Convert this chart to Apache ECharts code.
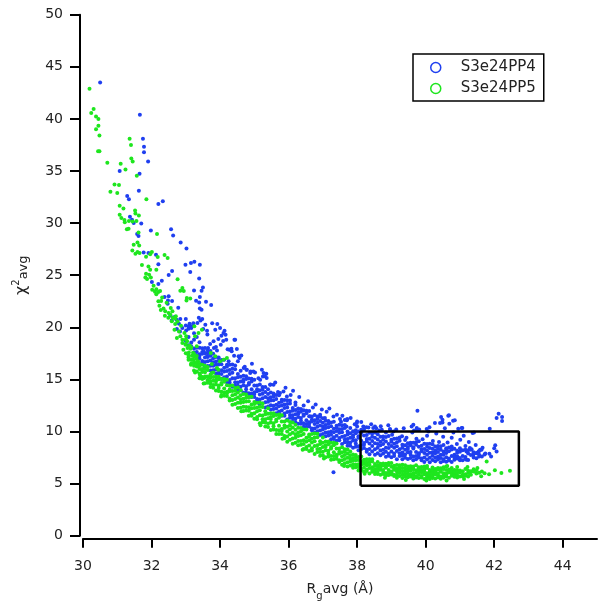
<!DOCTYPE html>
<html>
<head>
<meta charset="utf-8">
<script src="https://cdn.jsdelivr.net/npm/echarts@6/dist/echarts.min.js"></script>
<style>html,body{margin:0;padding:0;background:#fff;}#c{width:607px;height:607px;}</style>
</head>
<body>
<div id="c"></div>
<script>
// ---------- data ----------
const xTicks = [30, 32, 34, 36, 38, 40, 42, 44];
const yTicks = [0, 5, 10, 15, 20, 25, 30, 35, 40, 45, 50];
const seriesNames = ['S3e24PP4', 'S3e24PP5'];
const boxX = [38.1, 42.72];
const boxY = [4.8, 10.0];

// S3e24PP4: scattered points
const pp4Sparse = [
[30.5,43.5],[31.66,40.4],[31.75,38.1],[31.78,37.33],[31.78,36.8],[31.9,35.9],[31.07,35.0],[31.65,34.74],[31.63,33.1],[31.29,32.6],[31.34,32.3],[32.33,32.1],[32.2,31.83],[31.37,30.6],[31.43,30.33],[31.48,30.0],[31.7,29.97],[31.98,29.3],[32.57,29.4],[32.63,28.8],[31.58,28.95],[31.62,28.76],[32.85,28.15],[33.02,27.57],[31.77,27.19],[31.91,27.13],[32.13,26.97],[32.2,26.04],[32.99,26.0],[33.15,26.17],[33.25,26.3],[33.41,26.0],[33.13,25.3],[32.6,25.4],[32.5,25.02],[32.01,24.35],[32.2,24.16],[32.3,24.47],[33.39,24.69],[33.24,23.54],[33.46,23.51],[33.5,23.83],[32.38,22.9],[32.5,22.97],[32.48,22.58],[32.6,22.52],[32.47,22.26],[33.41,22.9],[33.3,22.55],[33.39,22.39],[33.59,22.46],[33.74,22.14],[33.41,21.81],[33.46,21.69],[32.78,21.88],
[32.55,21.14],[32.67,20.99],[32.59,20.66],[32.73,20.73],[32.84,20.8],[32.8,20.35],[32.9,19.93],[32.74,19.84],[32.83,19.6],[33.01,19.7],[33.08,19.87],[33.16,20.09],[33.11,20.35],[33.22,20.38],[33.34,20.41],[33.43,20.66],[33.38,20.92],[33.48,20.8],[33.57,20.25],[33.51,19.84],[33.62,19.67],[33.77,20.38],[33.92,20.32],[33.86,19.77],[34.0,19.93],[34.13,19.67],[34.16,19.29],[34.04,19.19],[33.95,18.88],[33.81,18.65],[33.71,18.4],[33.65,18.01],[33.82,18.01],[33.91,17.78],[34.02,18.33],[34.09,18.68],[34.18,18.81],[34.42,18.81],[34.27,17.85],[34.49,17.92],[34.41,17.27],[34.57,17.05],[34.52,16.73],[34.72,16.22],[34.77,15.93],[34.89,15.77],[35.02,15.67],[35.22,15.93],[35.35,15.55],[35.25,15.29],
[34.1,19.45],[34.44,18.81],[34.34,17.69],[34.54,17.21],[34.25,16.73],[33.62,17.21],[33.52,17.69],[34.78,15.93],[34.88,15.61],[34.97,15.77],[35.27,15.61],[35.36,15.13],[35.17,14.97],[35.46,14.49],[35.56,14.49],[36.2,12.79],[35.75,13.69],[35.85,13.85],[35.95,13.37],
[36.63,11.45],[36.92,11.61],[37.06,11.29],[37.31,11.45],[37.5,11.2],[37.7,11.07],[37.99,10.82],[38.18,10.49],[38.47,10.34],[38.72,10.17],[38.96,10.17],[37.31,6.08],
[37.71,11.2],[37.53,10.94],[38.0,10.97],[38.0,10.49],[37.69,10.49],[38.52,10.49],[38.33,10.39],[38.96,10.24],[39.06,10.01],[38.65,10.1],
[39.76,12.0],[40.45,11.39],[40.66,11.52],[40.8,11.04],[40.69,10.75],[40.49,10.87],[40.27,10.82],[42.13,11.71],[42.07,11.29],[42.23,11.39],[42.23,11.0],[41.87,10.27],[42.03,8.67],[42.07,8.09],[41.86,7.87],[40.95,10.27],[41.05,10.34],[41.37,9.86],[41.41,9.91],[41.59,8.25],[41.49,7.94],[41.29,8.41],[41.19,8.09],[39.59,10.49],[39.64,10.65],[39.74,10.34],[39.66,10.1],[39.74,10.17],[40.03,10.24],[40.08,10.01],[40.42,10.82],[40.49,11.13],[40.68,11.55],[40.85,11.07],[41.07,10.34],[41.63,8.25],[41.56,7.61],[41.39,7.77],[41.19,7.29],[41.0,7.45],
[33.63,19.3],[33.88,18.1],[34.22,17.9],[34.33,17.95],[34.62,17.3],[34.69,16.1],[34.93,16.5],[35.12,15.1],[35.31,15.3],[35.47,14.5],[35.61,14.7],[35.69,13.8],[35.91,14.2],[36.06,13.5],[36.13,13.9],[36.31,13.3],[36.44,12.5],[36.57,12.9],[36.71,12.3],[36.79,12.6],[36.97,12.1],[37.11,11.9],[37.19,12.2],[37.41,11.6],[37.57,11.5],[37.64,11.1],[37.81,11.3],[37.93,10.7],[38.12,10.9],[38.27,10.4],[38.41,10.7],[38.56,10.3],[38.69,10.5],[38.84,9.9],[38.91,10.6],[39.02,9.7],[39.14,10.2],[39.31,9.55],[39.36,10.3],[39.44,9.4],[39.61,9.9],[39.73,9.3],[39.81,10.2],[39.91,9.25],[40.04,9.6],[40.11,10.4],[40.21,9.1],[40.31,9.8],[40.39,9.0],[40.51,9.5],[40.56,10.3],[40.64,8.95],[40.76,9.4],[40.81,9.9],[40.91,8.8],[41.01,9.2],[41.11,9.6],[41.16,8.6],[41.26,9.0],[41.34,8.3],[41.46,8.7],[41.54,8.05],[41.66,8.45],[41.74,7.9],[41.91,7.6],[42.0,8.4]
];
// S3e24PP4: dense band, columns of [x, [y values]]
const pp4Band = [
[33.00,[20.17,18.69,20.79]],[33.08,[19.08,20.1,18.28]],[33.16,[19.93,18.54,18.17]],[33.24,[17.57,18.81,19.43,17.96]],[33.32,[18.03,19.07,17.62,17.26]],
[33.40,[17.0,18.04,17.42,18.56,17.28]],[33.48,[17.64,16.58,17.46,17.98,16.76]],[33.56,[18.02,17.1,16.66,17.5,16.22]],[33.64,[16.74,17.52,17.16,16.28,17.78]],[33.72,[17.28,16.32,15.86,16.82,17.72]],[33.80,[17.02,15.88,16.64,17.46,16.32]],[33.88,[15.56,16.71,15.95,17.14,16.4]],[33.96,[15.89,17.09,15.56,16.42,16.8]],
[34.04,[15.88,15.06,16.45,15.53,16.85]],[34.12,[16.11,15.21,16.89,15.75,15.02]],[34.20,[16.4,15.81,15.28,14.73,16.21]],[34.28,[14.94,15.91,16.4,14.69,15.53]],[34.36,[16.44,15.12,14.3,16.02,15.63]],[34.44,[14.42,15.98,15.11,14.72,16.33]],[34.52,[15.21,14.38,15.51,14.71,13.99]],[34.60,[15.26,13.95,15.82,14.8,14.3]],[34.68,[14.43,15.35,13.71,14.97,14.77]],[34.76,[15.31,14.06,13.73,15.03,14.35]],[34.84,[13.31,14.5,15.09,13.68,14.65]],[34.92,[14.06,15.07,13.65,13.31,14.79]],
[35.00,[13.32,14.41,13.76,14.96,13.61]],[35.08,[14.05,12.94,13.86,14.41,13.13]],[35.16,[14.51,13.55,13.08,13.97,12.62]],[35.24,[13.18,14.0,13.62,12.69,14.27]],[35.32,[13.8,12.8,12.31,13.32,14.27]],[35.40,[13.59,12.39,13.19,14.05,12.86]],[35.48,[12.12,13.29,12.52,13.74,12.98]],[35.56,[12.48,13.65,12.15,12.99,13.36]],[35.64,[12.56,11.76,13.11,12.21,13.5]],[35.72,[12.77,11.93,13.49,12.43,11.75]],[35.80,[13.04,12.5,12.02,11.52,12.86]],[35.88,[11.73,12.59,13.03,11.51,12.25]],[35.96,[13.0,11.86,11.14,12.64,12.3]],
[36.04,[11.32,12.68,11.92,11.58,12.98]],[36.12,[11.99,11.27,12.25,11.55,10.93]],[36.20,[12.06,10.92,12.54,11.66,11.22]],[36.28,[11.38,12.2,10.74,11.86,11.68]],[36.36,[12.15,11.04,10.74,11.89,11.29]],[36.44,[10.45,11.5,12.03,10.78,11.64]],[36.52,[11.09,11.99,10.73,10.43,11.74]],[36.60,[10.48,11.47,10.88,11.96,10.75]],[36.68,[11.13,10.12,10.96,11.45,10.29]],[36.76,[11.58,10.71,10.29,11.09,9.87]],[36.84,[10.45,11.19,10.85,10.02,11.44]],[36.92,[11.01,10.09,9.66,10.57,11.42]],
[37.00,[10.85,9.77,10.49,11.27,10.18]],[37.08,[9.55,10.62,9.91,11.02,10.33]],[37.16,[9.93,11.01,9.62,10.4,10.74]],[37.24,[10.0,9.26,10.51,9.68,10.87]],[37.32,[10.26,9.46,10.94,9.94,9.29]],[37.40,[10.56,10.05,9.59,9.11,10.39]],[37.48,[9.37,10.21,10.64,9.15,9.88]],[37.56,[10.6,9.49,8.79,10.25,9.92]],[37.64,[8.97,10.33,9.57,9.23,10.63]],[37.72,[9.72,8.98,9.99,9.27,8.63]],[37.80,[9.83,8.63,10.33,9.41,8.95]],[37.88,[9.14,10.02,8.45,9.65,9.46]],[37.96,[10.11,8.86,8.53,9.83,9.15]],
[38.04,[8.21,9.4,9.99,8.58,9.55]],[38.12,[9.11,10.17,8.68,8.32,9.87]],[38.20,[8.41,9.61,8.89,10.2,8.73]],[38.28,[9.28,8.06,9.07,9.67,8.26]],[38.36,[9.89,8.84,8.33,9.3,7.82]],[38.44,[8.6,9.5,9.08,8.07,9.8]],[38.52,[9.4,8.3,7.77,8.87,9.91]],[38.60,[9.23,7.92,8.8,9.74,8.43]],[38.68,[7.73,9.02,8.17,9.5,8.68]],[38.76,[8.24,9.53,7.88,8.81,9.21]],[38.84,[8.45,7.57,9.05,8.06,9.48]],[38.92,[8.79,7.87,9.58,8.42,7.67]],
[39.00,[9.2,8.61,8.08,7.53,9.01]],[39.08,[7.88,8.82,9.31,7.64,8.45]],[39.16,[9.34,8.12,7.34,8.96,8.59]],[39.24,[7.64,9.11,8.29,7.92,9.43]],[39.32,[8.45,7.69,8.72,7.99,7.33]],[39.40,[8.68,7.48,9.18,8.26,7.8]],[39.48,[8.02,8.88,7.35,8.52,8.33]],[39.56,[8.93,7.77,7.46,8.67,8.03]],[39.64,[7.25,8.36,8.91,7.6,8.5]],[39.72,[8.04,8.98,7.66,7.34,8.72]],[39.80,[7.5,8.54,7.92,9.06,7.78]],[39.88,[8.29,7.23,8.11,8.63,7.41]],[39.96,[8.82,7.93,7.5,8.32,7.07]],
[40.04,[7.77,8.53,8.18,7.32,8.79]],[40.12,[8.41,7.49,7.06,7.97,8.82]],[40.20,[8.35,7.27,7.99,8.77,7.68]],[40.28,[7.15,8.18,7.5,8.57,7.91]],[40.36,[7.59,8.62,7.31,8.04,8.37]],[40.44,[7.76,7.05,8.24,7.45,8.58]],[40.52,[8.07,7.33,8.7,7.77,7.18]],[40.60,[8.39,7.94,7.53,7.1,8.24]],[40.68,[7.4,8.11,8.47,7.21]],[40.76,[8.57,7.66,7.08,8.28]],[40.84,[7.3,8.35,7.76,7.5]],[40.92,[7.96,7.42,8.15,7.63]],
[41.00,[8.05,7.25,8.39]],[41.08,[7.66,8.19,7.24]],[41.16,[8.24,7.56,7.38]],[41.24,[7.26,7.88,8.19]],[41.32,[7.74,8.24]],[41.40,[7.5,8.02]],[41.48,[7.91,7.43]],[41.56,[8.13,7.76]],[41.64,[7.6]],[41.72,[7.8]]
];

// S3e24PP5: scattered points
const pp5Sparse = [
[30.19,42.9],[30.31,40.95],[30.24,40.56],[30.38,40.24],[30.45,40.0],[30.45,39.35],[30.38,39.0],[30.48,38.4],[30.48,36.9],[30.44,36.9],[30.71,35.8],[30.92,33.7],[31.05,33.65],[30.8,33.0],[31.0,32.9],[31.36,38.1],[31.4,37.5],[31.41,36.2],[31.45,35.9],[31.1,35.7],[31.24,35.15],[31.57,34.55],[31.85,32.3],[31.07,31.67],[31.18,31.4],[31.52,31.2],[31.53,30.93],[31.63,30.74],[31.07,30.8],[31.12,30.5],[31.21,30.3],[31.22,30.07],[31.34,30.2],[31.45,30.16],[31.56,30.2],[31.28,29.4],[31.33,29.45],[31.62,29.1],[32.16,28.95],[31.59,28.15],[31.64,27.86],[31.48,27.93],[31.44,27.38],[31.59,27.23],[31.65,27.13],[31.53,27.06],[32.01,27.23],[31.96,27.0],[31.84,26.78],[32.18,26.75],[32.38,26.94],[32.47,26.65],[31.72,25.98],[31.91,25.84],[31.96,25.53],[32.14,25.53],[31.84,25.14],[31.93,25.05],[31.82,24.79],[31.98,24.79],[31.87,24.64],[32.76,24.6],[32.06,23.99],[32.14,23.64],[32.02,23.61],[32.1,23.42],[32.2,23.39],[32.25,23.48],[32.14,23.16],[32.9,23.77],[32.84,23.51],[32.94,23.48],[33.03,22.81],[33.13,22.77],[33.02,22.58],[32.2,22.49],[32.28,22.52],[32.23,22.07],[32.35,21.81],[32.27,21.66],[32.4,21.53],[32.5,21.37],[32.39,21.11],[32.55,21.21],[32.49,20.92],[32.62,20.92],[32.71,21.05],
[32.59,20.57],[32.69,20.32],[32.67,19.77],[32.8,19.6],[32.84,19.13],[32.74,18.97],[32.9,18.81],[32.9,18.49],[32.99,18.33],[33.05,18.01],[32.93,17.85],[33.09,17.59],[33.18,17.27],[33.08,17.11],[33.22,16.89],[33.3,16.57],[33.15,16.41],[33.37,16.25],[33.47,15.93],[33.27,15.67],[33.42,15.38],[33.62,15.29],[33.76,15.61],[33.71,15.13],[33.54,15.13],[33.95,15.93],[34.1,16.89],[34.2,17.05],[34.0,16.73],[33.86,17.21],[33.73,17.53],[33.76,16.48],[33.91,16.09],[33.32,18.17],[33.27,19.13],[33.37,19.45],[33.47,19.77],[33.25,20.09],
[32.31,22.85],[32.44,22.35],[32.56,21.85],[32.61,21.55],[32.69,20.85],[32.76,20.55],[32.86,20.15],[32.96,19.45],[33.01,19.15],[33.04,18.65],[33.11,18.25],[33.14,17.95],[33.21,17.55],[33.24,17.45],[33.31,16.95],[33.36,16.75],
[33.52,14.6],[34.03,13.35],[34.62,11.95],[35.18,10.6],[35.82,9.3],[36.41,8.25],[37.03,7.4],[37.62,6.7],[38.22,5.95],[38.81,5.55],[39.42,5.35],[40.02,5.3],[40.61,5.3],[41.12,5.45],
[41.78,7.13],[42.02,6.27],[42.21,6.01],[42.46,6.24],[41.22,6.6],[41.51,6.5],[40.92,6.6],[40.63,6.7],[41.62,5.7],[41.85,5.9]
];
// S3e24PP5: dense band, columns of [x, [y values]]
const pp5Band = [
[33.00,[18.83,17.52,18.4]],[33.08,[16.88,18.11,17.29]],[33.16,[16.89,18.09,16.56]],[33.24,[16.64,15.86,17.18,16.3]],[33.32,[16.56,15.76,17.24,16.24]],
[33.40,[16.48,15.99,15.56,15.11,16.31]],[33.48,[15.23,16.01,16.4,15.03,15.7]],[33.56,[16.31,15.28,14.64,15.99,15.68]],[33.64,[14.69,15.91,15.23,14.92,16.18]],[33.72,[15.23,14.58,15.46,14.83,14.27]],[33.80,[15.22,14.2,15.66,14.86,14.47]],[33.88,[14.52,15.28,13.93,14.97,14.8]],[33.96,[15.25,14.17,13.89,15.01,14.42]],
[34.04,[13.5,14.52,15.03,13.82,14.65]],[34.12,[14.12,15.03,13.75,13.43,14.78]],[34.20,[13.4,14.44,13.82,14.96,13.68]],[34.28,[14.04,12.98,13.86,14.38,13.16]],[34.36,[14.42,13.47,13.02,13.88,12.57]],[34.44,[13.11,13.91,13.54,12.64,14.17]],[34.52,[13.75,12.75,12.26,13.27,14.22]],[34.60,[13.49,12.29,13.09,13.95,12.76]],[34.68,[11.97,13.14,12.37,13.59,12.83]],[34.76,[12.34,13.54,12.01,12.87,13.25]],[34.84,[12.33,11.51,12.9,11.98,13.3]],[34.92,[12.58,11.7,13.34,12.22,11.51]],
[35.00,[12.82,12.26,11.75,11.23,12.63]],[35.08,[11.4,12.31,12.77,11.17,11.95]],[35.16,[12.79,11.57,10.79,12.41,12.04]],[35.24,[10.89,12.36,11.54,11.17,12.68]],[35.32,[11.65,10.86,11.94,11.17,10.49]],[35.40,[11.7,10.44,12.22,11.26,10.77]],[35.48,[10.86,11.76,10.15,11.39,11.19]],[35.56,[11.76,10.51,10.18,11.48,10.8]],[35.64,[9.76,10.98,11.59,10.15,11.14]],[35.72,[10.56,11.62,10.13,9.77,11.32]],[35.80,[9.76,10.96,10.24,11.55,10.08]],[35.88,[10.58,9.36,10.37,10.97,9.56]],[35.96,[11.05,10.01,9.52,10.46,9.02]],
[36.04,[9.73,10.61,10.21,9.22,10.9]],[36.12,[10.38,9.32,8.82,9.87,10.86]],[36.20,[10.16,8.91,9.74,10.65,9.39]],[36.28,[8.68,9.91,9.09,10.37,9.58]],[36.36,[9.08,10.33,8.72,9.63,10.02]],[36.44,[9.17,8.32,9.77,8.8,10.19]],[36.52,[9.41,8.51,10.19,9.05,8.32]],[36.60,[9.72,9.16,8.65,8.13,9.53]],[36.68,[8.4,9.31,9.77,8.17,8.95]],[36.76,[9.8,8.6,7.84,9.42,9.06]],[36.84,[8.04,9.46,8.67,8.31,9.78]],[36.92,[8.8,8.04,9.07,8.34,7.68]],
[37.00,[8.93,7.73,9.43,8.51,8.05]],[37.08,[8.2,9.04,7.54,8.69,8.51]],[37.16,[9.04,7.9,7.6,8.78,8.16]],[37.24,[7.3,8.38,8.92,7.64,8.52]],[37.32,[8.02,8.93,7.65,7.33,8.68]],[37.40,[7.38,8.37,7.78,8.86,7.65]],[37.48,[8.05,7.07,7.88,8.36,7.23]],[37.56,[8.48,7.63,7.23,8.0,6.82]],[37.64,[7.37,8.07,7.74,6.95,8.3]],[37.72,[7.9,7.06,6.65,7.49,8.28]],[37.80,[7.71,6.74,7.38,8.08,7.11]],[37.88,[6.53,7.46,6.85,7.8,7.21]],[37.96,[6.83,7.74,6.57,7.23,7.52]],
[38.04,[6.85,6.25,7.27,6.59,7.56]],[38.12,[7.07,6.44,7.61,6.81,6.3]],[38.20,[7.28,6.88,6.52,6.14,7.15]],[38.28,[6.36,7.0,7.34,6.2,6.75]],[38.36,[7.33,6.5,5.98,7.07,6.82]],[38.44,[6.13,7.12,6.57,6.32,7.34]],[38.52,[6.68,6.15,6.87,6.36,5.91]],[38.60,[6.74,5.91,7.08,6.45,6.13]],[38.68,[6.32,6.91,5.85,6.66,6.53]],[38.76,[6.92,6.12,5.91,6.74,6.3]],[38.84,[5.77,6.53,6.9,6.01,6.62]],[38.92,[6.31,6.97,6.04,5.82,6.78]],
[39.00,[5.88,6.61,6.17,6.97,6.08]],[39.08,[6.47,5.73,6.34,6.71,5.85]],[39.16,[6.78,6.16,5.86,6.43,5.56]],[39.24,[6.05,6.58,6.33,5.74,6.75]],[39.32,[6.5,5.85,5.54,6.19,6.8]],[39.40,[6.46,5.69,6.2,6.76,5.99]],[39.48,[5.61,6.36,5.86,6.65,6.16]],[39.56,[5.9,6.67,5.68,6.23,6.48]],[39.64,[6.02,5.49,6.38,5.79,6.64]],[39.72,[6.27,5.71,6.76,6.04,5.59]],[39.80,[6.56,6.19,5.87,5.53,6.44]],[39.88,[5.72,6.3,6.6,5.58,6.08]],[39.96,[6.64,5.89,5.43,6.4,6.18]],
[40.04,[5.61,6.49,6.0,5.78,6.69]],[40.12,[6.14,5.67,6.31,5.86,5.45]],[40.20,[6.25,5.54,6.55,6.0,5.73]],[40.28,[5.89,6.4,5.49,6.19,6.08]],[40.36,[6.49,5.78,5.59,6.33,5.94]],[40.44,[5.46,6.14,6.48,5.68,6.23]],[40.52,[5.99,6.58,5.75,5.55,6.41]],[40.60,[5.69,6.31,5.94,6.63,5.86]],[40.68,[6.16,5.55,6.06,6.36]],[40.76,[6.5,5.99,5.75,6.22]],[40.84,[5.89,6.3,6.11,5.65]],[40.92,[6.29,5.81,5.58,6.06]],
[41.00,[6.26,5.69,6.07]],[41.08,[5.67,6.18,5.84]],[41.16,[5.9,6.41,5.75]],[41.24,[6.01,5.68,6.24]],[41.32,[6.19,5.85]],[41.40,[6.37,6.16]],[41.48,[5.97,6.27]],[41.56,[6.04]],[41.64,[6.15]],[41.72,[6.0]]
];

// ---------- chart ----------
function flatten(sparse, band) {
  const out = sparse.slice();
  band.forEach(function (col) { col[1].forEach(function (y) { out.push([col[0], y]); }); });
  return out;
}
const blue = '#1f3ff0';
const green = '#1ee61e';
const fontFam = 'DejaVu Sans, Verdana, sans-serif';

const chart = echarts.init(document.getElementById('c'), null, {renderer: 'canvas'});
chart.setOption({
  animation: false,
  backgroundColor: '#ffffff',
  grid: {left: 83, right: 10, top: 14.7, bottom: 71.3, containLabel: false},
  xAxis: {
    type: 'value', min: 30, max: 45, interval: 2, offset: 3,
    name: '{r|R}{g|g}{a|avg (Å)}', nameLocation: 'middle', nameGap: 44,
    nameTextStyle: {
      rich: {
        r: {fontSize: 14, fontFamily: fontFam, color: '#222', verticalAlign: 'bottom', padding: [0, 0, 5, 0]},
        g: {fontSize: 10, fontFamily: fontFam, color: '#222', verticalAlign: 'bottom'},
        a: {fontSize: 14, fontFamily: fontFam, color: '#222', verticalAlign: 'bottom', padding: [0, 0, 5, 0]}
      }
    },
    axisLine: {show: true, onZero: false, lineStyle: {color: '#000', width: 2}},
    axisTick: {show: true, inside: false, length: 9, customValues: xTicks, lineStyle: {color: '#000', width: 2}},
    axisLabel: {customValues: xTicks, margin: 21, fontSize: 14, fontFamily: fontFam, color: '#222'},
    splitLine: {show: false}
  },
  yAxis: {
    type: 'value', min: 0, max: 50, interval: 5, offset: 3,
    name: '{x|χ}{s|2}{a|avg}', nameLocation: 'middle', nameRotate: 90, nameGap: 50,
    nameTextStyle: {
      rich: {
        x: {fontSize: 16, fontFamily: fontFam, color: '#222', verticalAlign: 'bottom'},
        s: {fontSize: 10, fontFamily: fontFam, color: '#222', verticalAlign: 'bottom', padding: [0, 0, 9, 0]},
        a: {fontSize: 13, fontFamily: fontFam, color: '#222', verticalAlign: 'bottom'}
      }
    },
    axisLine: {show: true, onZero: false, lineStyle: {color: '#000', width: 2}},
    axisTick: {show: true, inside: false, length: 10, customValues: yTicks, lineStyle: {color: '#000', width: 2}},
    axisLabel: {customValues: yTicks, margin: 17, fontSize: 14, fontFamily: fontFam, color: '#222'},
    splitLine: {show: false}
  },
  legend: {
    orient: 'vertical', left: 413, top: 54,
    padding: [6, 8, 5, 17], itemGap: 6, itemWidth: 10, itemHeight: 10,
    borderColor: '#000', borderWidth: 1.5, backgroundColor: '#fff',
    textStyle: {fontSize: 15, fontFamily: fontFam, color: '#222', lineHeight: 14, padding: [0, 0, 0, 15]},
    data: [
      {name: seriesNames[0], icon: 'circle', itemStyle: {color: 'rgba(0,0,0,0)', borderColor: blue, borderWidth: 1.5}},
      {name: seriesNames[1], icon: 'circle', itemStyle: {color: 'rgba(0,0,0,0)', borderColor: green, borderWidth: 1.5}}
    ]
  },
  series: [
    {name: seriesNames[0], type: 'scatter', symbol: 'circle', symbolSize: 4,
     itemStyle: {color: blue, opacity: 1}, data: flatten(pp4Sparse, pp4Band), z: 2, silent: true},
    {name: seriesNames[1], type: 'scatter', symbol: 'circle', symbolSize: 4,
     itemStyle: {color: green, opacity: 1}, data: flatten(pp5Sparse, pp5Band), z: 3, silent: true},
    {name: 'box', type: 'line', symbol: 'none', silent: true, z: 5,
     lineStyle: {color: '#000', width: 2.5},
     data: [[boxX[0], boxY[0]], [boxX[1], boxY[0]], [boxX[1], boxY[1]], [boxX[0], boxY[1]], [boxX[0], boxY[0]]]}
  ]
});
</script>
</body>
</html>
